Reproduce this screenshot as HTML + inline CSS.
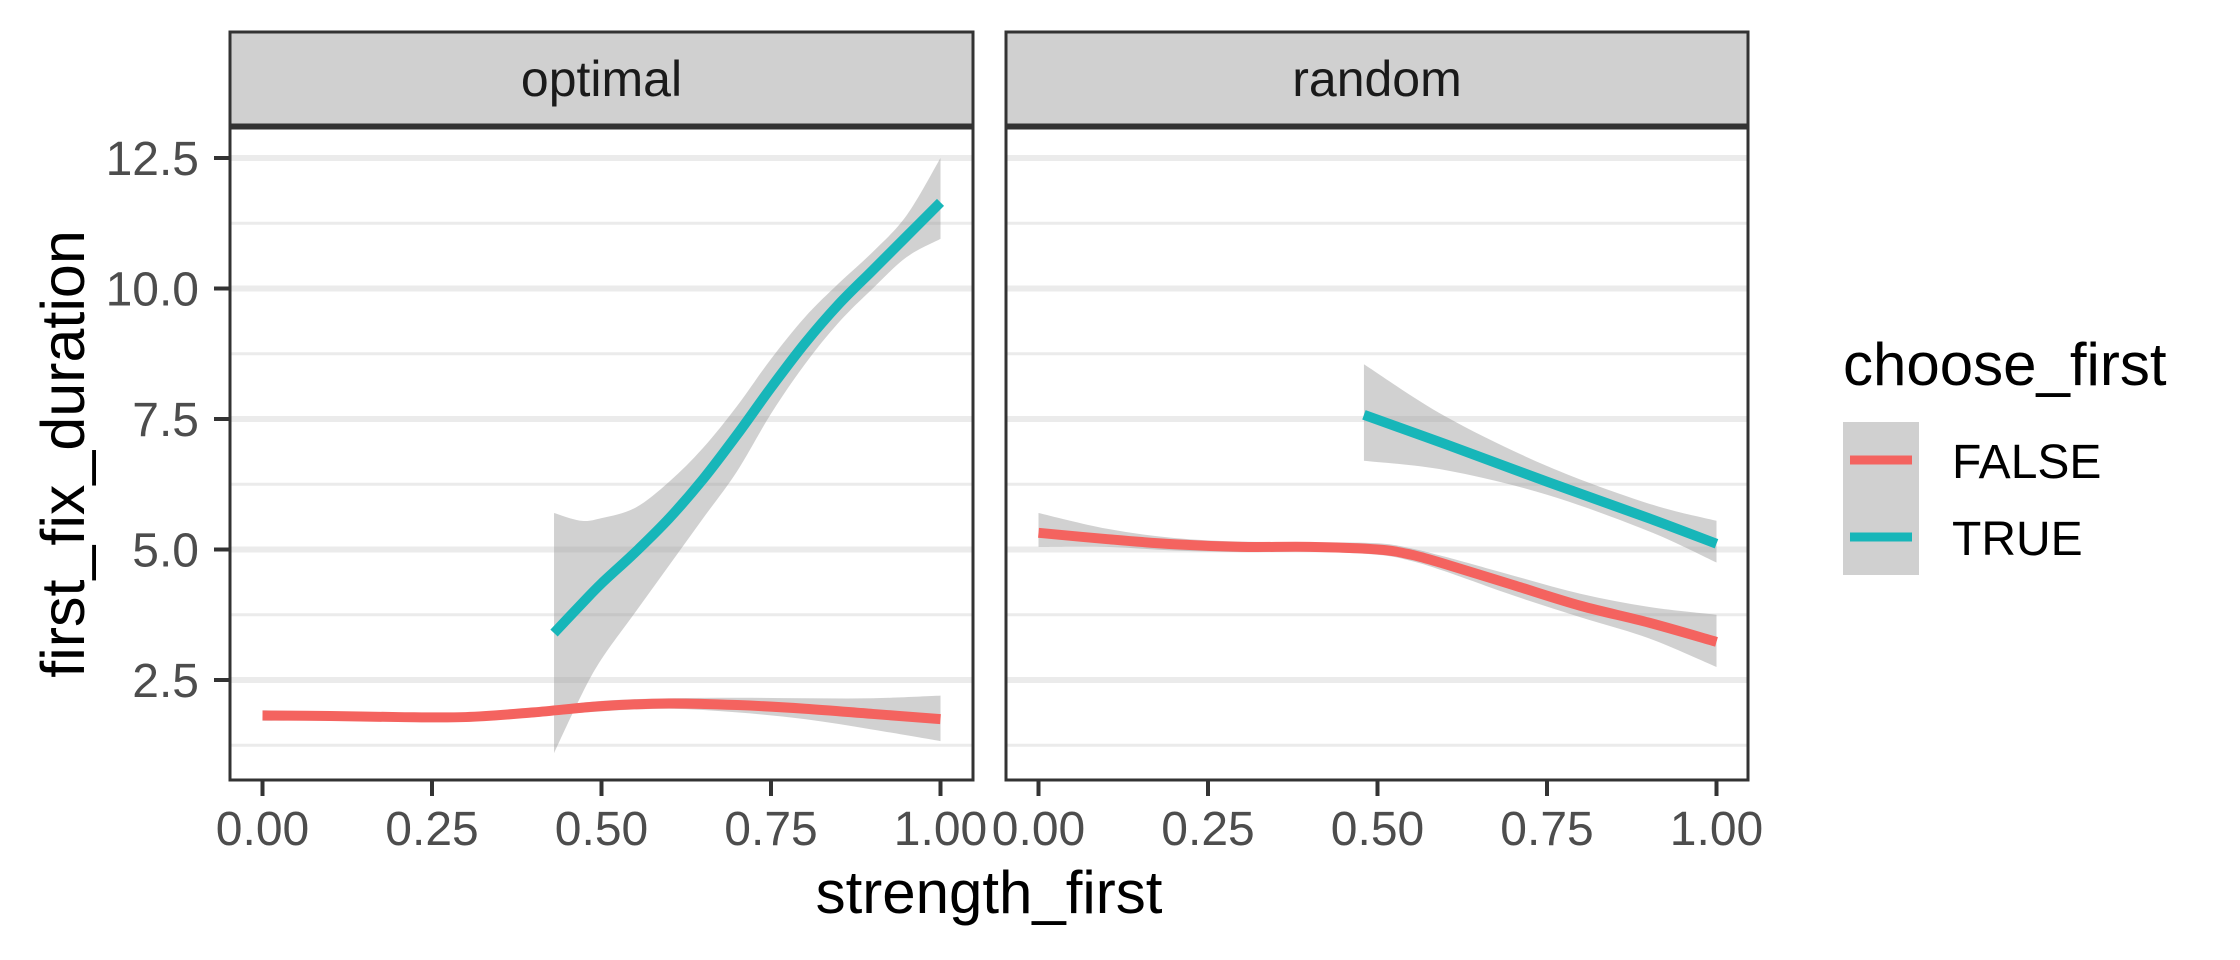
<!DOCTYPE html>
<html><head><meta charset="utf-8">
<style>
html,body{margin:0;padding:0;background:#fff;}
svg{display:block;font-family:"Liberation Sans",Arial,sans-serif;}
</style></head>
<body>
<svg id="chart" width="2240" height="960" viewBox="0 0 2240 960" xmlns="http://www.w3.org/2000/svg">
</svg>
<script>
// ---- data ----
const panelNames = ["optimal", "random"];
const xTicks = [0, 0.25, 0.5, 0.75, 1.0];
const xTickLabels = ["0.00", "0.25", "0.50", "0.75", "1.00"];
const yTicks = [2.5, 5.0, 7.5, 10.0, 12.5];
const yTickLabels = ["2.5", "5.0", "7.5", "10.0", "12.5"];
const yMinor = [1.25, 3.75, 6.25, 8.75, 11.25];
const seriesNames = ["FALSE", "TRUE"];

// optimal / FALSE
const optFalseX  = [0, 0.1, 0.2, 0.3, 0.4, 0.5, 0.6, 0.7, 0.8, 0.9, 1.0];
const optFalseY  = [1.82, 1.81, 1.79, 1.79, 1.88, 2.0, 2.05, 2.02, 1.95, 1.85, 1.75];
const optFalseLo = [1.72, 1.73, 1.72, 1.72, 1.8, 1.9, 1.95, 1.88, 1.75, 1.55, 1.33];
const optFalseHi = [1.92, 1.89, 1.86, 1.86, 1.96, 2.1, 2.15, 2.16, 2.15, 2.15, 2.2];
// optimal / TRUE
const optTrueX  = [0.43, 0.47, 0.5, 0.55, 0.6, 0.65, 0.7, 0.75, 0.8, 0.85, 0.9, 0.95, 1.0];
const optTrueY  = [3.4, 3.95, 4.35, 4.95, 5.6, 6.35, 7.2, 8.1, 8.95, 9.7, 10.35, 11.0, 11.65];
const optTrueLo = [1.1, 2.2, 2.9, 3.8, 4.7, 5.6, 6.5, 7.6, 8.55, 9.35, 10.0, 10.6, 10.95];
const optTrueHi = [5.7, 5.55, 5.6, 5.8, 6.3, 6.95, 7.75, 8.65, 9.45, 10.1, 10.7, 11.4, 12.5];
// random / FALSE
const rndFalseX  = [0, 0.1, 0.2, 0.3, 0.4, 0.5, 0.55, 0.6, 0.7, 0.8, 0.9, 1.0];
const rndFalseY  = [5.32, 5.2, 5.1, 5.05, 5.05, 5.0, 4.9, 4.72, 4.32, 3.92, 3.6, 3.23];
const rndFalseLo = [5.05, 5.05, 4.98, 4.95, 4.96, 4.9, 4.78, 4.58, 4.12, 3.7, 3.3, 2.75];
const rndFalseHi = [5.7, 5.4, 5.22, 5.15, 5.14, 5.12, 5.02, 4.86, 4.5, 4.15, 3.9, 3.75];
// random / TRUE
const rndTrueX  = [0.48, 0.6, 0.75, 0.9, 1.0];
const rndTrueY  = [7.58, 7.02, 6.3, 5.6, 5.11];
const rndTrueLo = [6.7, 6.52, 6.05, 5.35, 4.75];
const rndTrueHi = [8.55, 7.55, 6.6, 5.88, 5.55];

// ---- layout ----
const panels = [{left:230, right:973}, {left:1006, right:1748}];
const pTop = 128, pBot = 780, stripTop = 32, stripBot = 125;
const colors = ["#F4635F", "#17B6B9"];
function xs(p, v){ const x0 = panels[p].left + 32.5, w = 678; return x0 + v*w; }
function ys(v){ return 158 + (12.5 - v)*52.2; }

const svg = document.getElementById('chart');
const NS = "http://www.w3.org/2000/svg";
function el(tag, attrs, parent){ const e=document.createElementNS(NS,tag); for(const k in attrs) e.setAttribute(k, attrs[k]); (parent||svg).appendChild(e); return e; }

function smoothPath(pts){
  let d = "M"+pts[0][0]+","+pts[0][1];
  for(let i=0;i<pts.length-1;i++){
    const p0=pts[Math.max(0,i-1)], p1=pts[i], p2=pts[i+1], p3=pts[Math.min(pts.length-1,i+2)];
    const c1=[p1[0]+(p2[0]-p0[0])/6, p1[1]+(p2[1]-p0[1])/6];
    const c2=[p2[0]-(p3[0]-p1[0])/6, p2[1]-(p3[1]-p1[1])/6];
    d += " C"+c1[0]+","+c1[1]+" "+c2[0]+","+c2[1]+" "+p2[0]+","+p2[1];
  }
  return d;
}

const seriesData = [
  [[optFalseX,optFalseY,optFalseLo,optFalseHi],[optTrueX,optTrueY,optTrueLo,optTrueHi]],
  [[rndFalseX,rndFalseY,rndFalseLo,rndFalseHi],[rndTrueX,rndTrueY,rndTrueLo,rndTrueHi]]
];

panels.forEach((P, pi) => {
  const g = el('g', {});
  
  
  const strip = el('rect', {x:P.left, y:stripTop, width:P.right-P.left, height:stripBot-stripTop, fill:'#d0d0d0', stroke:'#333', 'stroke-width':3}, g);
  
  
  const st = el('text', {x:(P.left+P.right)/2, y:96, 'text-anchor':'middle', 'font-size':50, fill:'#1a1a1a'}, g);
  st.textContent = panelNames[pi];
  
  
  el('rect', {x:P.left, y:pTop, width:P.right-P.left, height:pBot-pTop, fill:'#fff'}, g);
  yMinor.forEach(v => {
    const l = el('line', {x1:P.left, x2:P.right, y1:ys(v), y2:ys(v), stroke:'#ebebeb', 'stroke-width':3}, g);
    
    
  });
  yTicks.forEach(v => {
    const l = el('line', {x1:P.left, x2:P.right, y1:ys(v), y2:ys(v), stroke:'#ebebeb', 'stroke-width':6}, g);
    
    
  });
  seriesData[pi].forEach((s, si) => {
    const [X,Y,LO,HI] = s;
    const hi = X.map((x,i)=>[xs(pi,x), ys(HI[i])]);
    const lo = X.map((x,i)=>[xs(pi,x), ys(LO[i])]).reverse();
    let d = smoothPath(hi);
    d += " L" + lo[0][0] + "," + lo[0][1] + smoothPath(lo).replace(/^M[^ ]+/, "") + " Z";
    const r = el('path', {d:d, fill:'#999', 'fill-opacity':0.45}, g);
    
    
  });
  seriesData[pi].forEach((s, si) => {
    const [X,Y] = s;
    const pts = X.map((x,i)=>[xs(pi,x), ys(Y[i])]);
    const ln = el('path', {d:smoothPath(pts), fill:'none', stroke:colors[si], 'stroke-width':10}, g);
    
    
  });
  el('rect', {x:P.left, y:pTop, width:P.right-P.left, height:pBot-pTop, fill:'none', stroke:'#333', 'stroke-width':3}, g);
  xTicks.forEach((v, i) => {
    const x = xs(pi, v);
    const t = el('line', {x1:x, x2:x, y1:pBot, y2:pBot+16, stroke:'#333', 'stroke-width':4}, g);
    
    
    const lb = el('text', {x:x, y:845, 'text-anchor':'middle', 'font-size':48, fill:'#4d4d4d'}, g);
    lb.textContent = xTickLabels[i];
    
    
  });
});

yTicks.forEach((v, i) => {
  const t = el('line', {x1:214, x2:230, y1:ys(v), y2:ys(v), stroke:'#333', 'stroke-width':4});
  
  
  const lb = el('text', {x:199, y:ys(v)+17, 'text-anchor':'end', 'font-size':48, fill:'#4d4d4d'});
  lb.textContent = yTickLabels[i];
  
  
});

const xt = el('text', {x:989, y:913, 'text-anchor':'middle', 'font-size':60, fill:'#000'});
xt.textContent = 'strength_first';


const yt = el('text', {x:0, y:0, 'text-anchor':'middle', 'font-size':61, fill:'#000', transform:'translate(84,454) rotate(-90)'});
yt.textContent = 'first_fix_duration';



const lg = el('g', {});


const ltt = el('text', {x:1843, y:385, 'font-size':60, fill:'#000'}, lg);
ltt.textContent = 'choose_first';


el('rect', {x:1843, y:422, width:76, height:153, fill:'#d0d0d0'}, lg);
seriesNames.forEach((n, i) => {
  const cy = 460 + i*77;
  const k = el('line', {x1:1850, x2:1912, y1:cy, y2:cy, stroke:colors[i], 'stroke-width':9}, lg);
  
  
  const tx = el('text', {x:1952, y:cy+18, 'font-size':48, fill:'#000'}, lg);
  tx.textContent = n;
  
  
});
</script>
</body></html>
